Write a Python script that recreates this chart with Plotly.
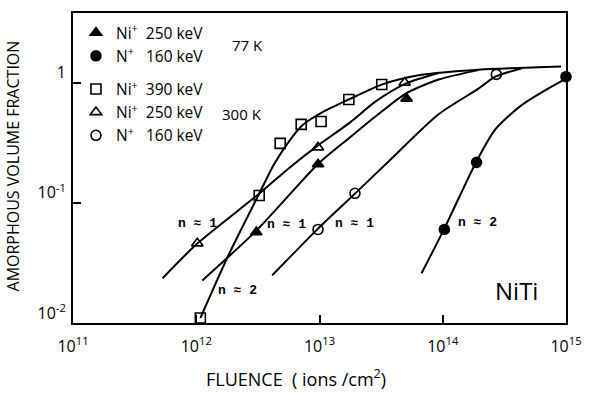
import plotly.graph_objects as go

# ---------------- data ----------------
# measured points
sq_x = [1.08e12, 3.24e12, 4.80e12, 7.10e12, 1.03e13, 1.73e13, 3.20e13]      # Ni+ 390 keV, 300 K
sq_y = [0.011, 0.115, 0.312, 0.449, 0.474, 0.723, 0.964]

tri_open_x = [1.02e12, 9.73e12, 4.91e13]                                     # Ni+ 250 keV, 300 K
tri_open_y = [0.046, 0.289, 1.0]

tri_fill_x = [3.07e12, 9.73e12, 5.09e13]                                     # Ni+ 250 keV, 77 K
tri_fill_y = [0.057, 0.209, 0.736]

circ_open_x = [9.73e12, 1.94e13, 2.72e14]                                    # N+ 160 keV, 300 K
circ_open_y = [0.060, 0.120, 1.17]

circ_fill_x = [1.03e14, 1.88e14, 1.0e15]                                     # N+ 160 keV, 77 K
circ_fill_y = [0.060, 0.217, 1.12]

# hand-drawn fit curves (traced points)
curve_sq_x = [1.08e12, 1.79e12, 3.24e12, 4.29e12, 5.60e12, 7.23e12, 1.05e13,
              1.73e13, 3.20e13, 6.73e13, 1.95e14, 9.12e14]
curve_sq_y = [0.011, 0.0351, 0.119, 0.210, 0.320, 0.440, 0.565,
              0.724, 0.962, 1.16, 1.28, 1.36]

curve_to_x = [5.33e11, 1.02e12, 3.24e12, 5.68e12, 9.55e12, 1.73e13, 2.86e13, 5.00e13, 9.25e13]
curve_to_y = [0.0236, 0.0458, 0.119, 0.195, 0.296, 0.458, 0.697, 0.98, 1.20]

curve_tf_x = [1.12e12, 3.07e12, 9.91e12, 1.73e13, 2.86e13, 5.00e13, 9.25e13, 1.95e14]
curve_tf_y = [0.0226, 0.0587, 0.214, 0.344, 0.524, 0.811, 1.06, 1.27]

curve_co_x = [4.13e12, 9.73e12, 1.97e13, 3.65e13, 9.25e13, 1.95e14, 2.67e14, 4.34e14]
curve_co_y = [0.0249, 0.061, 0.121, 0.222, 0.545, 0.891, 1.12, 1.31]

curve_cf_x = [6.73e13, 1.03e14, 1.88e14, 2.67e14, 4.34e14, 7.16e14, 1.0e15]
curve_cf_y = [0.0259, 0.061, 0.222, 0.409, 0.646, 0.891, 1.08]

x_tickvals = [1e11, 1e12, 1e13, 1e14, 1e15]
x_ticktext = ['10<sup>11</sup>', '10<sup>12</sup>', '10<sup>13</sup>', '10<sup>14</sup>', '10<sup>15</sup>']
y_tickvals = [0.01, 0.1, 1]
y_ticktext = ['10<sup>-2</sup>', '10<sup>-1</sup>', '1']

series_names = ['Ni<sup>+</sup>  250 keV', 'N<sup>+</sup>   160 keV',
                'Ni<sup>+</sup>  390 keV', 'Ni<sup>+</sup>  250 keV', 'N<sup>+</sup>   160 keV']

# ---------------- figure ----------------
FONT = 'Open Sans'
fig = go.Figure()

line_style = dict(color='black', width=2, shape='spline', smoothing=0.7)
for cx, cy in [(curve_sq_x, curve_sq_y), (curve_to_x, curve_to_y), (curve_tf_x, curve_tf_y),
               (curve_co_x, curve_co_y), (curve_cf_x, curve_cf_y)]:
    fig.add_trace(go.Scatter(x=cx, y=cy, mode='lines', line=line_style,
                             showlegend=False, hoverinfo='skip', cliponaxis=False))

def mk(symbol):
    return dict(symbol=symbol, size=10, color='black',
                line=dict(color='black', width=1.6))

marker_sets = [
    (tri_fill_x, tri_fill_y, 'triangle-up', series_names[0], 'g77'),
    (circ_fill_x, circ_fill_y, 'circle', series_names[1], 'g77'),
    (sq_x, sq_y, 'square-open', series_names[2], 'g300'),
    (tri_open_x, tri_open_y, 'triangle-up-open', series_names[3], 'g300'),
    (circ_open_x, circ_open_y, 'circle-open', series_names[4], 'g300'),
]
for mx, my, sym, name, grp in marker_sets:
    fig.add_trace(go.Scatter(x=mx, y=my, mode='markers', marker=mk(sym), name=name,
                             legendgroup=grp, cliponaxis=False))

fig.update_layout(
    width=593, height=402,
    margin=dict(l=73, r=25, t=11, b=79),
    paper_bgcolor='white', plot_bgcolor='white',
    font=dict(family=FONT, color='black', size=15.5),
    showlegend=True,
    legend=dict(x=0.006, y=0.99, xanchor='left', yanchor='top',
                bgcolor='rgba(0,0,0,0)', tracegroupgap=10,
                font=dict(family=FONT, size=15.5), itemwidth=30),
    xaxis=dict(type='log', range=[11, 15], tickvals=x_tickvals, ticktext=x_ticktext,
               ticks='inside', ticklen=8, tickwidth=1.5, tickcolor='black',
               showline=True, linewidth=2, linecolor='black', mirror=True,
               showgrid=False, zeroline=False, ticklabelstandoff=8,
               tickfont=dict(family=FONT, size=16)),
    yaxis=dict(type='log', range=[-2, 0.579], tickvals=y_tickvals, ticktext=y_ticktext,
               ticks='inside', ticklen=8, tickwidth=1.5, tickcolor='black',
               showline=True, linewidth=2, linecolor='black', mirror=True,
               showgrid=False, zeroline=False, ticklabelstandoff=2, ticklabelshift=-10,
               tickfont=dict(family=FONT, size=16)),
)

def ann(text, x, y, size=14, family=FONT, angle=0):
    fig.add_annotation(text=text, x=x, y=y, xref='paper', yref='paper', showarrow=False,
                       xanchor='center', yanchor='middle', textangle=angle,
                       font=dict(family=family, size=size, color='black'))

ann('77 K', 0.3535, 0.897, size=15)
ann('300 K', 0.3434, 0.673, size=15)
MONO = 'Liberation Mono'
ann('<b>n ≈ 1</b>', 0.2525, 0.3205, size=13, family=MONO)
ann('<b>n ≈ 1</b>', 0.4323, 0.3173, size=13, family=MONO)
ann('<b>n ≈ 1</b>', 0.5717, 0.3205, size=13, family=MONO)
ann('<b>n ≈ 2</b>', 0.3333, 0.1058, size=13, family=MONO)
ann('<b>n ≈ 2</b>', 0.8202, 0.3237, size=13, family=MONO)
ann('NiTi', 0.899, 0.1058, size=24)

# axis titles
ann('AMORPHOUS VOLUME FRACTION', -0.121, 0.506, size=16, angle=-90)
ann('FLUENCE  ( ions /cm<sup>2</sup>)', 0.4525, -0.176, size=18)

fig.write_html('out.html')
